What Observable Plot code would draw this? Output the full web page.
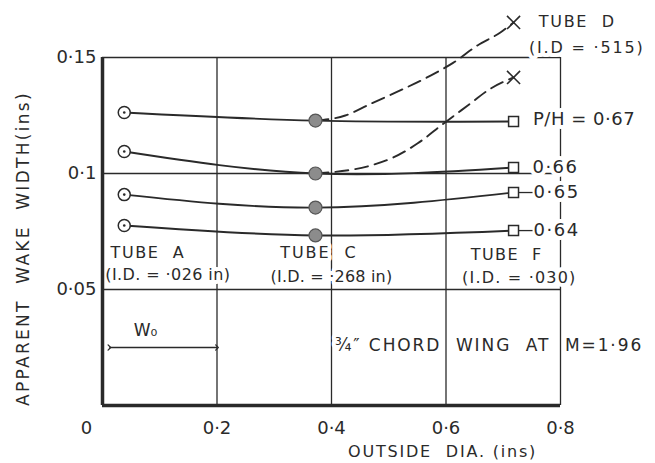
<!DOCTYPE html>
<html><head><meta charset="utf-8">
<script src="https://cdn.jsdelivr.net/npm/d3@7"></script>
<script src="https://cdn.jsdelivr.net/npm/@observablehq/plot@0.6"></script>
<style>
html,body{margin:0;padding:0;background:#fff}
svg text{white-space:pre}
</style>
</head><body><div id="chart"></div>
<script>
// ---- data ----
const ratios = ["0·67", "0·66", "0·65", "0·64"];
const tubeNames = ["A", "C", "F"];
const tubeOD = [0.038, 0.372, 0.718];
const wake067 = [0.1263, 0.1228, 0.1224];
const wake066 = [0.1095, 0.1000, 0.1026];
const wake065 = [0.0909, 0.0853, 0.0918];
const wake064 = [0.0776, 0.0733, 0.0754];
// dashed Tube D traces
const tubeD067X = [0.372, 0.424, 0.468, 0.520, 0.573, 0.613, 0.655, 0.695, 0.718];
const tubeD067Y = [0.1228, 0.1250, 0.1300, 0.1358, 0.1422, 0.1478, 0.1552, 0.1608, 0.1651];
const tubeD066X = [0.372, 0.468, 0.508, 0.550, 0.596, 0.638, 0.678, 0.718];
const tubeD066Y = [0.1000, 0.1034, 0.1069, 0.1129, 0.1216, 0.1293, 0.1366, 0.1414];
const xTicks = [0, 0.2, 0.4, 0.6, 0.8];
const yTicks = [0.05, 0.1, 0.15];
const gridX = [0.2, 0.4, 0.6];
const gridY = [0.05, 0.1];
const tubeLabels = ["TUBE  A", "TUBE  C", "TUBE  F", "TUBE  D"];
const idLabels = ["(I.D. = ·026 in)", "(I.D. = ·268 in)", "(I.D. = ·030)", "(I.D = ·515)"];
const ratioLabels = ["P/H = 0·67", "0·66", "0·65", "0·64"];
const noteLabel = "¾″ CHORD  WING  AT  M=1·96";
const wLabel = "W₀";
const xLabel = "OUTSIDE  DIA. (ins)";
const yLabel = "APPARENT  WAKE  WIDTH(ins)";

// ---- tables built from the arrays ----
const wakes = [wake067, wake066, wake065, wake064];
const rows = ratios.flatMap((r, i) => tubeOD.map((x, j) => ({ratio: r, tube: tubeNames[j], x, y: wakes[i][j]})));
const dashed = [
  ...tubeD067X.map((x, i) => ({k: "D67", x, y: tubeD067Y[i]})),
  ...tubeD066X.map((x, i) => ({k: "D66", x, y: tubeD066Y[i]}))
];
const xMarks = [
  {x: tubeD067X[tubeD067X.length - 1], y: tubeD067Y[tubeD067Y.length - 1]},
  {x: tubeD066X[tubeD066X.length - 1], y: tubeD066Y[tubeD066Y.length - 1]}
];
const fmt = d => d === 0 ? "0" : String(d).replace(".", "·");
const ink = "#2a2a2a";
const halo = {stroke: "white", strokeWidth: 8, fill: ink};

const chart = Plot.plot({
  width: 655, height: 463,
  marginLeft: 102, marginRight: 95, marginTop: 57, marginBottom: 58,
  x: {domain: [0, 0.8], axis: null},
  y: {domain: [0, 0.15], axis: null},
  style: {fontFamily: "DejaVu Sans", fontSize: "16px", background: "white", color: ink},
  marks: [
    Plot.ruleX(gridX, {stroke: ink, strokeWidth: 1.3}),
    Plot.ruleY([gridY[1]], {stroke: ink, strokeWidth: 1.3}),
    Plot.ruleY([0.15], {stroke: ink, strokeWidth: 1.4}),
    Plot.ruleX([0.8], {stroke: ink, strokeWidth: 1.3}),
    // annotations (halo breaks the grid like the original lettering)
    Plot.text([tubeLabels[0]], {x: 0.014, y: 0.066, textAnchor: "start", ...halo}),
    Plot.text([idLabels[0]], {x: 0.005, y: 0.0565, textAnchor: "start", ...halo}),
    Plot.text([tubeLabels[1]], {x: 0.378, y: 0.066, textAnchor: "middle", ...halo}),
    Plot.text([idLabels[1]], {x: 0.400, y: 0.0555, textAnchor: "middle", ...halo}),
    Plot.text([tubeLabels[2]], {x: 0.706, y: 0.065, textAnchor: "middle", ...halo}),
    Plot.text([idLabels[2]], {x: 0.728, y: 0.0548, textAnchor: "middle", ...halo}),
    Plot.text([tubeLabels[3]], {x: 0.762, y: 0.1655, textAnchor: "start", ...halo}),
    Plot.text([idLabels[3]], {x: 0.745, y: 0.1543, textAnchor: "start", ...halo}),
    Plot.text([ratioLabels[0]], {x: 0.752, y: 0.1235, textAnchor: "start", fontSize: 18, ...halo}),
    Plot.text([ratioLabels[1]], {x: 0.751, y: 0.1026, textAnchor: "start", fontSize: 18, ...halo}),
    Plot.text([ratioLabels[2]], {x: 0.753, y: 0.0918, textAnchor: "start", fontSize: 18, ...halo}),
    Plot.text([ratioLabels[3]], {x: 0.753, y: 0.0754, textAnchor: "start", fontSize: 18, ...halo}),
    Plot.text([noteLabel], {x: 0.406, y: 0.0258, textAnchor: "start", fontSize: 17, ...halo}),
    Plot.text([wLabel], {x: 0.075, y: 0.0325, textAnchor: "middle", fontSize: 17, ...halo}),
    Plot.link([wLabel], {x1: 0.012, x2: 0.2, y1: 0.025, y2: 0.025, stroke: ink, strokeWidth: 1.3, markerStart: "arrow", markerEnd: "arrow"}),
    // the 0.05 grid line runs under the I.D. labels like an underline
    Plot.ruleY([gridY[0]], {stroke: ink, strokeWidth: 1.3}),
    // short leaders from squares to the P/H labels
    Plot.ruleY([wake065[2], wake064[2]], {x1: 0.726, x2: 0.752, stroke: ink, strokeWidth: 1.3}),
    // frame (heavy left and bottom edges)
    Plot.ruleX([0], {stroke: ink, strokeWidth: 3.5}),
    Plot.ruleY([0], {stroke: ink, strokeWidth: 3.5}),
    // curves
    Plot.line(rows, {x: "x", y: "y", z: "ratio", curve: "natural", stroke: ink, strokeWidth: 1.9}),
    Plot.line(dashed, {x: "x", y: "y", z: "k", curve: "monotone-x", stroke: ink, strokeWidth: 1.9, strokeDasharray: "13,7"}),
    // markers
    Plot.dot(rows.filter(d => d.tube === "A"), {x: "x", y: "y", r: 6, fill: "white", stroke: ink, strokeWidth: 1.5}),
    Plot.dot(rows.filter(d => d.tube === "A"), {x: "x", y: "y", r: 1.3, fill: ink}),
    Plot.dot(rows.filter(d => d.tube === "C"), {x: "x", y: "y", r: 6.5, fill: "#8c8c8c", stroke: "#555", strokeWidth: 1.2}),
    Plot.dot(rows.filter(d => d.tube === "F"), {x: "x", y: "y", r: 5.6, symbol: "square", fill: "white", stroke: ink, strokeWidth: 1.5}),
    Plot.dot(xMarks, {x: "x", y: "y", r: 6, symbol: "times", stroke: ink, strokeWidth: 1.6}),
    // axes
    Plot.axisX(xTicks.filter(d => d > 0), {anchor: "bottom", label: null, tickSize: 0, tickPadding: 16, fontSize: 18, tickFormat: fmt}),
    Plot.axisX(xTicks.filter(d => d === 0), {anchor: "bottom", label: null, tickSize: 0, tickPadding: 16, fontSize: 18, dx: -16, tickFormat: fmt}),
    Plot.axisY(yTicks, {anchor: "left", label: null, tickSize: 0, tickPadding: 6, fontSize: 18, tickFormat: fmt}),
    Plot.text([xLabel], {x: 0.594, frameAnchor: "bottom", dy: 46, textAnchor: "middle", lineAnchor: "middle", fill: ink}),
    Plot.text([yLabel], {frameAnchor: "left", dx: -79, dy: 17, rotate: -90, textAnchor: "middle", lineAnchor: "middle", fontSize: 17, fill: ink})
  ]
});
document.getElementById("chart").appendChild(chart);

// letter spacing of the wide hand lettering
const spacing = new Map([
  [yLabel, 2.3], [xLabel, 1.8], [noteLabel, 1.9],
  [tubeLabels[0], 1.6], [tubeLabels[1], 1.9], [tubeLabels[2], 1.4], [tubeLabels[3], 1.7],
  [idLabels[0], 0.4], [idLabels[1], 0.2], [idLabels[2], 1.2], [idLabels[3], 1.8],
  [ratioLabels[0], 0.5], [ratioLabels[1], 1.5], [ratioLabels[2], 1.5], [ratioLabels[3], 1.5]
]);
d3.select(chart).selectAll("text").each(function() {
  const s = spacing.get(this.textContent);
  if (s != null) this.style.letterSpacing = s + "px";
});
</script>
</body></html>
